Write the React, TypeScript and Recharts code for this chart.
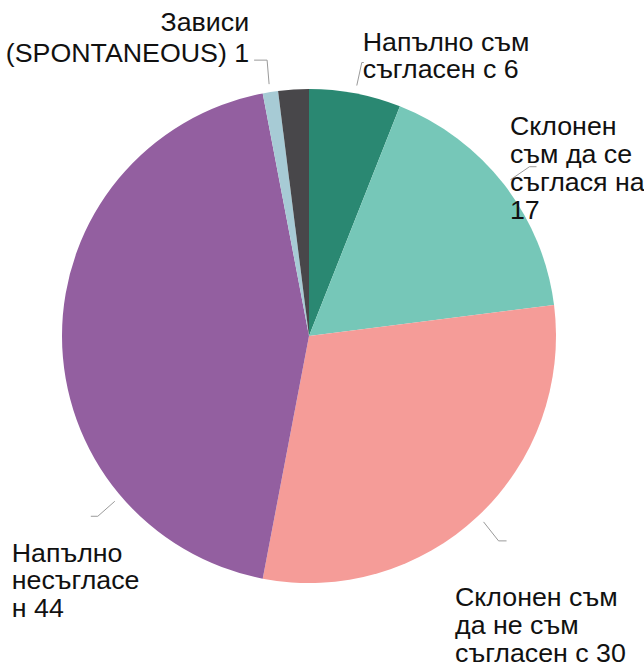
import React from 'react';
import { PieChart, Pie, Cell } from 'recharts';

const categories = [
    'Напълно съм съгласен с',
    'Склонен съм да се съглася на',
    'Склонен съм да не съм съгласен с',
    'Напълно несъгласен',
    'Зависи (SPONTANEOUS)',
    'Не знам',
];
const values = [6, 17, 30, 44, 1, 2];
const colors = ['#2a8872', '#76c7b8', '#f59c98', '#935fa0', '#a7cbd5', '#48474a'];
// label text as it wraps in the picture (empty = no label)
const labelLines = [
    ['Напълно съм', 'съгласен с 6'],
    ['Склонен', 'съм да се', 'съглася на', '17'],
    ['Склонен съм', 'да не съм', 'съгласен с 30'],
    ['Напълно', 'несъгласе', 'н 44'],
    ['Зависи', '(SPONTANEOUS) 1'],
    [],
];

const data = categories.map((name, i) => ({ name, value: values[i] }));

const RAD = Math.PI / 180;
const FONT = 25.5;
const STRETCH = 1.05;

// leader line shape + text block placement, relative to the slice edge
const layout: any[] = [
    { angle: null, leg: [5, -23], tick: 2, tx: 1, ty: -12, lh: 27, anchor: 'start' },
    { angle: null, leg: [19, -13], tick: 7, tx: -19.5, ty: -31.5, lh: 27.8, anchor: 'start' },
    { angle: null, leg: [15, 19], tick: 8, tx: -43.5, ty: 65.5, lh: 27.6, anchor: 'start' },
    { angle: -139.6, leg: [-17, 15], tick: -7, tx: -86, ty: 45.4, lh: 27.8, anchor: 'start' },
    { angle: null, leg: [-2, -24], tick: -13, tx: -18, ty: -29, lh: 31, anchor: 'end' },
    null,
];

const renderLabel = (props: any) => {
    const { cx, cy, midAngle, outerRadius, index } = props;
    const cfg = layout[index];
    if (!cfg) return null;
    const ang = cfg.angle ?? midAngle;
    const x0 = cx + (outerRadius + 8) * Math.cos(-ang * RAD);
    const y0 = cy + (outerRadius + 8) * Math.sin(-ang * RAD);
    const x1 = x0 + cfg.leg[0];
    const y1 = y0 + cfg.leg[1];
    const x2 = x1 + cfg.tick;
    const tx = x1 + cfg.tx;
    const ty = y1 + cfg.ty;
    return (
        <g>
            <polyline points={`${x0},${y0} ${x1},${y1} ${x2},${y1}`} fill="none" stroke="#9a9a9a" strokeWidth={1} />
            <text
                x={tx}
                y={ty}
                textAnchor={cfg.anchor}
                fill="#111"
                fontSize={FONT}
                fontFamily="'Liberation Sans', Arial, sans-serif"
                transform={`translate(${tx} 0) scale(${STRETCH} 1) translate(${-tx} 0)`}
            >
                {labelLines[index].map((l, j) => (
                    <tspan key={j} x={tx} dy={j === 0 ? 0 : cfg.lh}>{l}</tspan>
                ))}
            </text>
        </g>
    );
};

export default function App() {
    return (
        <div style={{ width: 644, height: 666, background: '#fff' }}>
            <style>{`body{margin:0}`}</style>
            <PieChart width={644} height={666} margin={{ top: 0, right: 0, bottom: 0, left: 0 }}>
                <Pie
                    data={data}
                    dataKey="value"
                    nameKey="name"
                    cx={309}
                    cy={336}
                    outerRadius={247}
                    startAngle={90}
                    endAngle={-270}
                    stroke="none"
                    label={renderLabel}
                    labelLine={false}
                    isAnimationActive={false}
                >
                    {data.map((entry, index) => (
                        <Cell key={`cell-${index}`} fill={colors[index]} />
                    ))}
                </Pie>
            </PieChart>
        </div>
    );
}
